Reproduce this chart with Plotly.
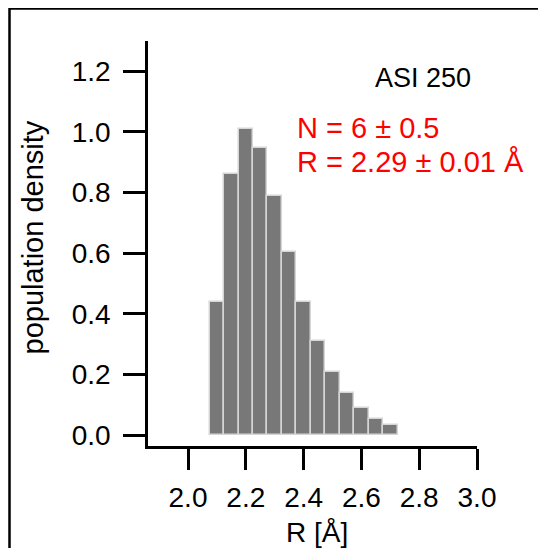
import plotly.graph_objects as go

# Data
r_centers = [2.10, 2.15, 2.20, 2.25, 2.30, 2.35, 2.40, 2.45, 2.50, 2.55, 2.60, 2.65, 2.70]
density = [0.44, 0.86, 1.01, 0.946, 0.787, 0.605, 0.44, 0.31, 0.209, 0.14, 0.09, 0.055, 0.035]
bin_width = 0.05

x_tickvals = [2.0, 2.2, 2.4, 2.6, 2.8, 3.0]
x_ticktext = ["2.0", "2.2", "2.4", "2.6", "2.8", "3.0"]
y_tickvals = [0.0, 0.2, 0.4, 0.6, 0.8, 1.0, 1.2]
y_ticktext = ["0.0", "0.2", "0.4", "0.6", "0.8", "1.0", "1.2"]

sample_label = "ASI 250"
fit_lines = ["N = 6 ± 0.5", "R = 2.29 ± 0.01 Å"]
x_title = "R [Å]"
y_title = "population density"

FONT = "Liberation Sans, Arial, Helvetica, sans-serif"

OFF = 8  # page body margin
W, H = 530, 540
L = 148 - OFF
R = W - (477 - OFF)
T = 41 - OFF
B = H - (446 - OFF)
pw, ph = W - L - R, H - T - B


def px2paper(sx, sy):
    fx, fy = sx - OFF, sy - OFF
    return (fx - L) / pw, (H - B - fy) / ph


fig = go.Figure()
fig.add_trace(go.Bar(
    x=r_centers, y=density, width=bin_width,
    marker=dict(color="#787878", line=dict(color="#d6d6d6", width=1.5)),
    showlegend=False,
))

fig.update_layout(
    width=W, height=H,
    margin=dict(l=L, r=R, t=T, b=B, pad=0),
    paper_bgcolor="white", plot_bgcolor="white",
    font=dict(family=FONT, size=28, color="black"),
    bargap=0,
)
fig.update_xaxes(
    range=[1.8616, 3.0], tickvals=x_tickvals, ticktext=x_ticktext,
    showline=True, linecolor="black", linewidth=2.5,
    ticks="outside", ticklen=21, tickwidth=2.5, tickcolor="black",
    showgrid=False, zeroline=False, ticklabelstandoff=4,
    tickfont=dict(size=28, family=FONT, color="black"),
)
fig.update_yaxes(
    range=[-0.035, 1.299], tickvals=y_tickvals, ticktext=y_ticktext,
    showline=True, linecolor="black", linewidth=2.5,
    ticks="outside", ticklen=22, tickwidth=2.5, tickcolor="black",
    showgrid=False, zeroline=False, ticklabelstandoff=7,
    tickfont=dict(size=28, family=FONT, color="black"),
)

# outer frame (left and top edges)
x0, y0 = px2paper(9.5, 560)
x1, y1 = px2paper(9.5, 8.5)
x2, _ = px2paper(560, 8.5)
fig.add_shape(type="path", xref="paper", yref="paper",
              path=f"M {x0} {y0} L {x1} {y1} L {x2} {y1}",
              line=dict(color="black", width=2.5))

ax, ay = px2paper(423, 78)
fig.add_annotation(x=ax, y=ay, xref="paper", yref="paper", text=sample_label,
                   showarrow=False, xanchor="center", yanchor="middle",
                   font=dict(size=27, color="black", family=FONT))
for txt, py in zip(fit_lines, [128, 162]):
    ax, ay = px2paper(295, py)
    fig.add_annotation(x=ax, y=ay, xref="paper", yref="paper", text=txt,
                       showarrow=False, xanchor="left", yanchor="middle",
                       font=dict(size=29, color="#ff0000", family=FONT))

ax, ay = px2paper(317, 532)
fig.add_annotation(x=ax, y=ay, xref="paper", yref="paper", text=x_title,
                   showarrow=False, xanchor="center", yanchor="middle",
                   font=dict(size=28, color="black", family=FONT))
ax, ay = px2paper(32, 237.5)
fig.add_annotation(x=ax, y=ay, xref="paper", yref="paper", text=y_title,
                   showarrow=False, xanchor="center", yanchor="middle",
                   textangle=-90,
                   font=dict(size=29, color="black", family=FONT))

fig.write_html("out.html")
